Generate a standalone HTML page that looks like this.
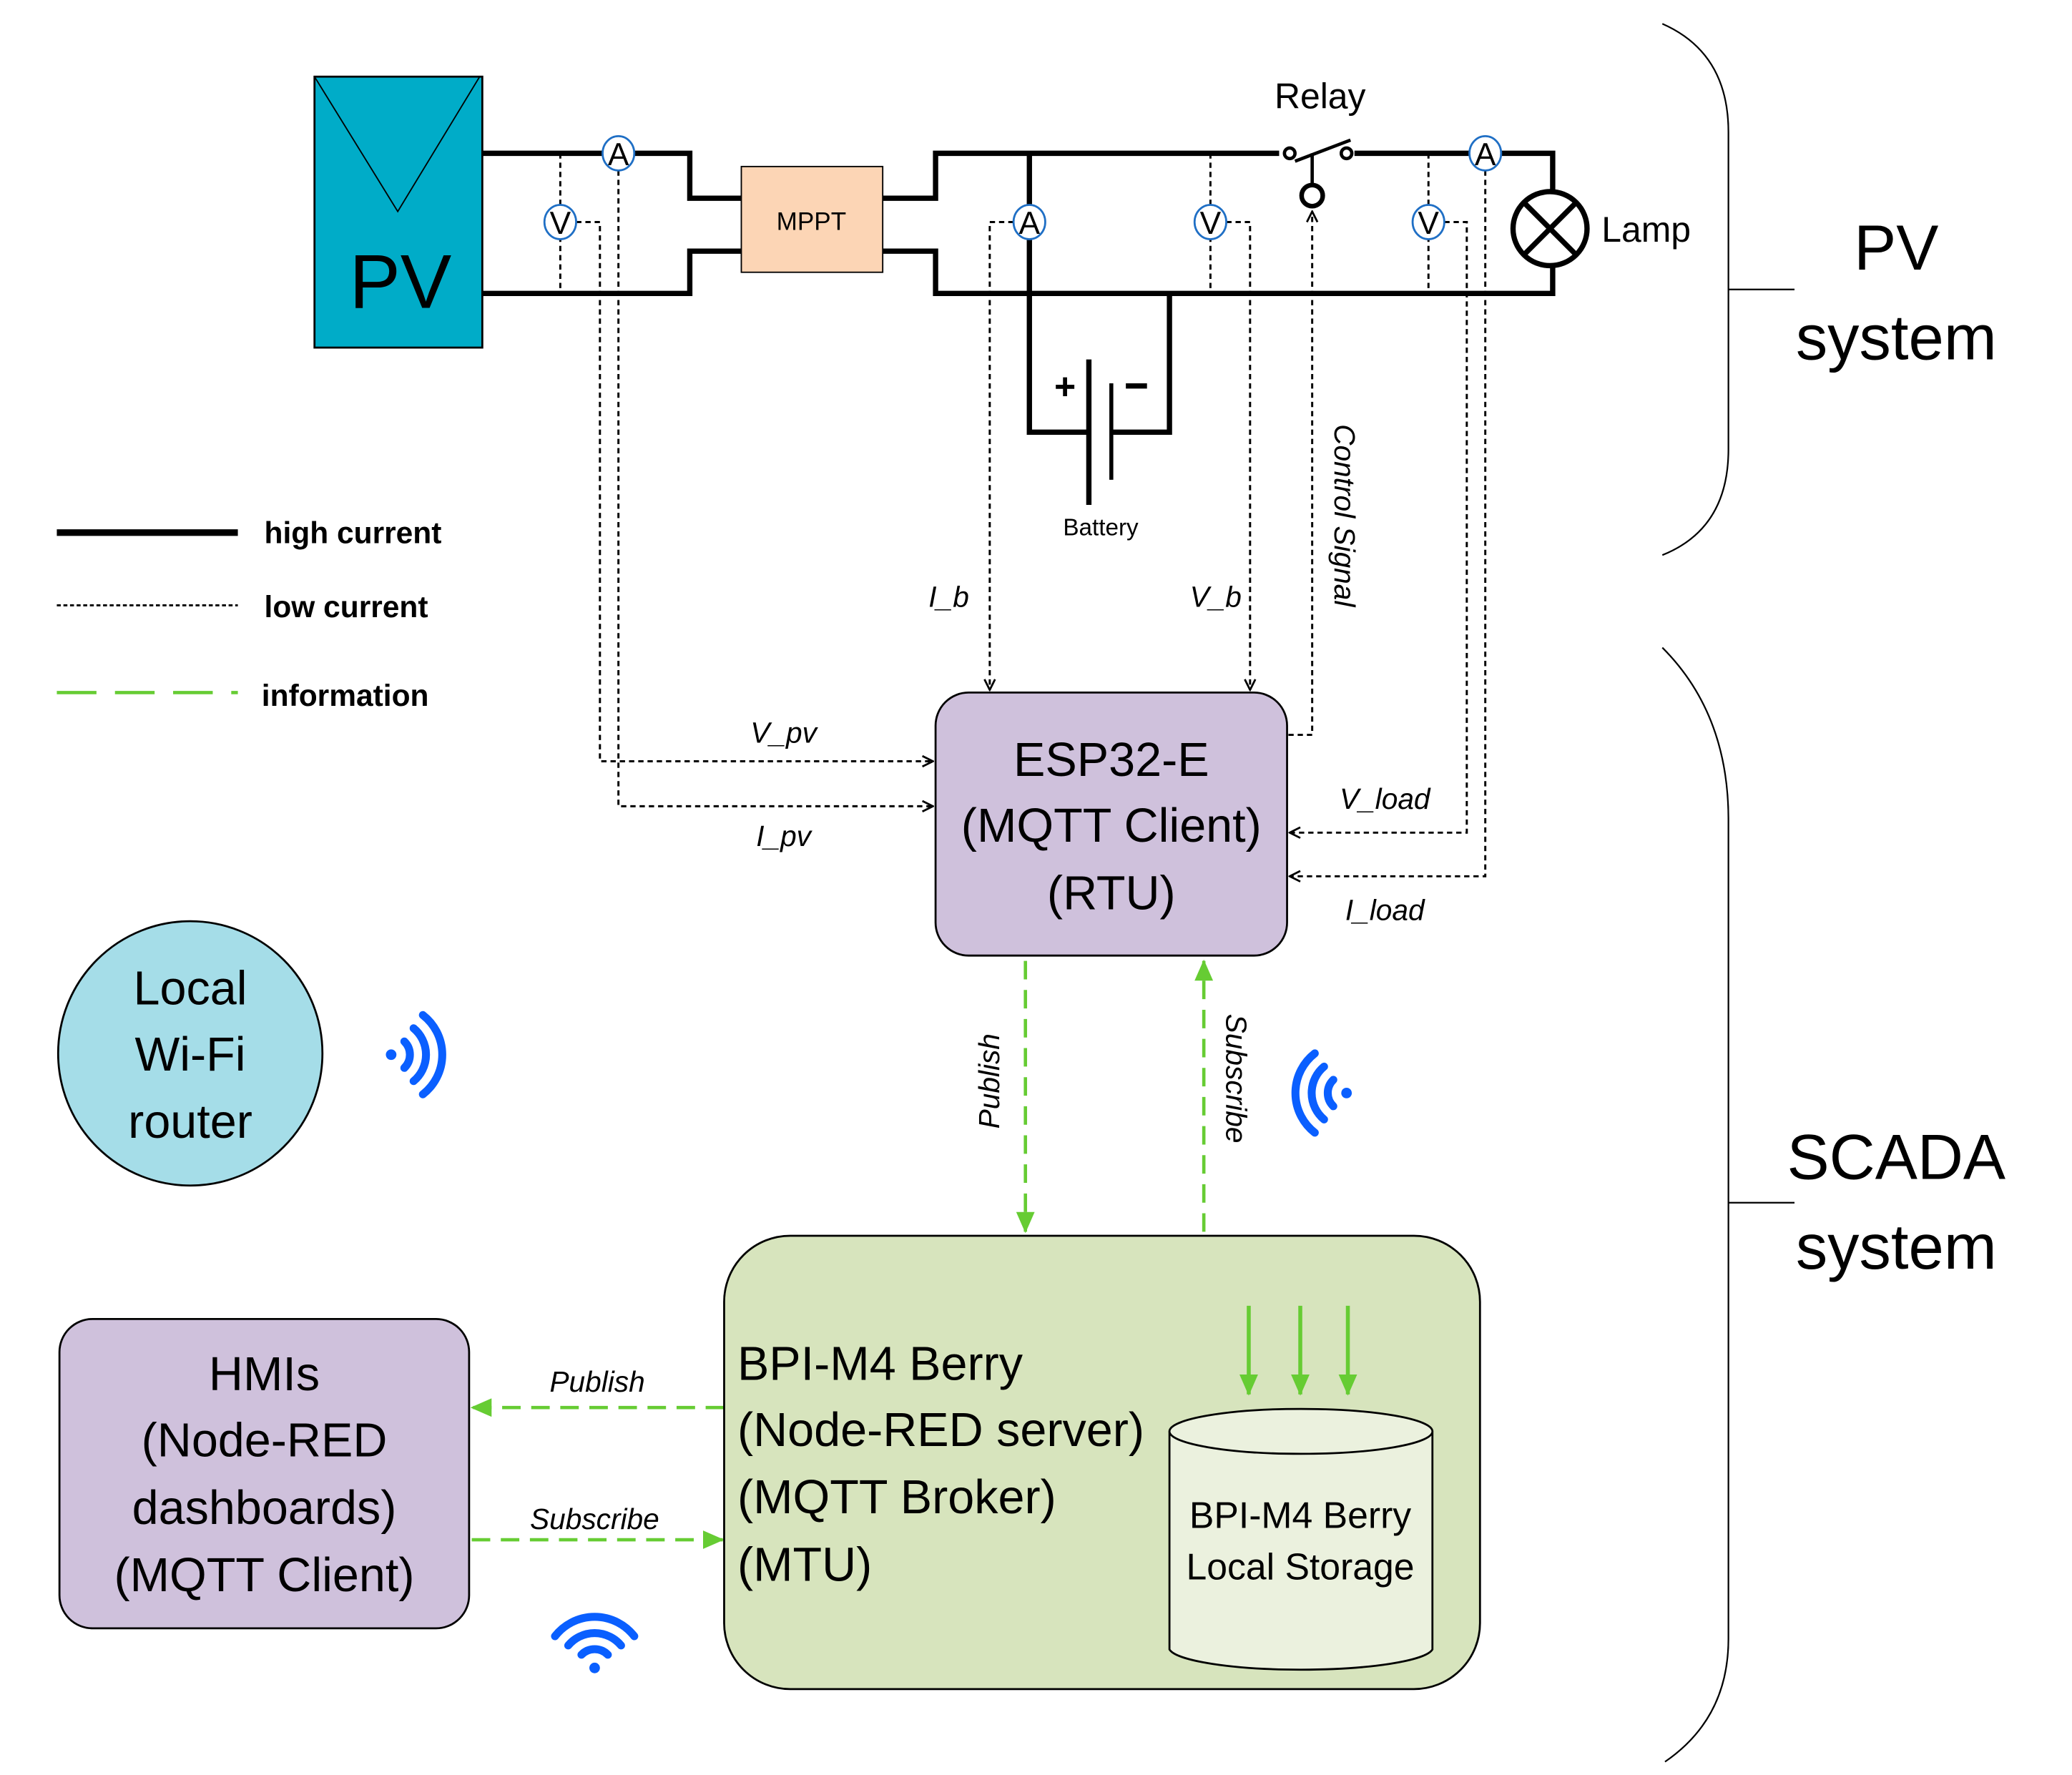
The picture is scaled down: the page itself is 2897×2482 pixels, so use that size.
<!DOCTYPE html>
<html><head><meta charset="utf-8"><style>html,body{margin:0;padding:0;background:#fff}svg{display:block}text{font-family:"Liberation Sans",sans-serif}</style></head><body>
<svg width="2897" height="2482" viewBox="0 0 1568 1343" preserveAspectRatio="none" xmlns="http://www.w3.org/2000/svg">
<defs>
<marker id="ab" markerWidth="10" markerHeight="10" refX="9" refY="5" orient="auto" markerUnits="userSpaceOnUse"><path d="M1,1 L9,5 L1,9" fill="none" stroke="#000" stroke-width="1.5"/></marker>
<marker id="ag" markerWidth="16" markerHeight="14" refX="15" refY="7" orient="auto" markerUnits="userSpaceOnUse"><path d="M0,0 L16,7 L0,14z" fill="#66cc33"/></marker>
</defs>
<rect x="238" y="58" width="127" height="205" fill="#00acc8" stroke="#000" stroke-width="1.5"/>
<path d="M238,58 L301,160 L363,58" fill="none" stroke="#000" stroke-width="1"/>
<text x="303" y="233" font-size="58" text-anchor="middle">PV</text>
<g fill="none" stroke="#000" stroke-width="4">
<path d="M365,116 H522 V150 H561"/>
<path d="M365,222 H522 V190 H561"/>
<path d="M668,150 H708 V116 H968"/>
<path d="M1025,116 H1175 V145"/>
<path d="M668,190 H708 V222 H1175 V201"/>
<path d="M779,116 V327 H824"/>
<path d="M885,222 V327 H841"/>
</g>
<rect x="561" y="126" width="107" height="80" fill="#fcd5b5" stroke="#000" stroke-width="1"/>
<text x="614" y="174" font-size="19" text-anchor="middle">MPPT</text>
<line x1="824" y1="272" x2="824" y2="382" stroke="#000" stroke-width="4"/>
<line x1="841" y1="290" x2="841" y2="363" stroke="#000" stroke-width="3"/>
<text x="806" y="302" font-size="28" font-weight="bold" text-anchor="middle">+</text>
<line x1="852" y1="292" x2="868" y2="292" stroke="#000" stroke-width="4"/>
<text x="833" y="405" font-size="18" text-anchor="middle">Battery</text>
<circle cx="976" cy="116" r="4" fill="#fff" stroke="#000" stroke-width="2.5"/>
<circle cx="1019" cy="116" r="4" fill="#fff" stroke="#000" stroke-width="2.5"/>
<line x1="980" y1="122" x2="1022" y2="106" stroke="#000" stroke-width="2.5"/>
<line x1="993" y1="116" x2="993" y2="140" stroke="#000" stroke-width="2.5"/>
<circle cx="993" cy="148" r="8" fill="#fff" stroke="#000" stroke-width="3.5"/>
<text x="999" y="82" font-size="27" text-anchor="middle">Relay</text>
<circle cx="1173" cy="173" r="28" fill="#fff" stroke="#000" stroke-width="4"/>
<path d="M1153,153 L1193,193 M1193,153 L1153,193" stroke="#000" stroke-width="4"/>
<text x="1212" y="183" font-size="27">Lamp</text>
<g fill="none" stroke="#000" stroke-width="1.6" stroke-dasharray="4,3">
<path d="M424,116 V222"/>
<path d="M436,168 H454 V576 H706" marker-end="url(#ab)"/>
<path d="M468,129 V610 H706" marker-end="url(#ab)"/>
<path d="M767,168 H749 V522" marker-end="url(#ab)"/>
<path d="M916,116 V222"/>
<path d="M928,168 H946 V522" marker-end="url(#ab)"/>
<path d="M975,556 H993 V160" marker-end="url(#ab)"/>
<path d="M1081,116 V222"/>
<path d="M1093,168 H1110 V630 H976" marker-end="url(#ab)"/>
<path d="M1124,129 V663 H976" marker-end="url(#ab)"/>
</g>
<g fill="#fff" stroke="#1f6fc5" stroke-width="1.5">
<ellipse cx="468" cy="116" rx="12" ry="13"/><ellipse cx="779" cy="168" rx="12" ry="13"/><ellipse cx="1124" cy="116" rx="12" ry="13"/>
<ellipse cx="424" cy="168" rx="12" ry="13"/><ellipse cx="916" cy="168" rx="12" ry="13"/><ellipse cx="1081" cy="168" rx="12" ry="13"/>
</g>
<g font-size="24" text-anchor="middle">
<text x="468" y="125">A</text><text x="779" y="177">A</text><text x="1124" y="125">A</text>
<text x="424" y="177">V</text><text x="916" y="177">V</text><text x="1081" y="177">V</text>
</g>
<g font-size="22" font-style="italic" text-anchor="middle">
<text x="718" y="459">I_b</text><text x="920" y="459">V_b</text>
<text x="593" y="562">V_pv</text><text x="593" y="640">I_pv</text>
<text x="1048" y="612">V_load</text><text x="1048" y="696">I_load</text>
<text transform="translate(1010,390) rotate(90)" font-size="22">Control Signal</text>
<text transform="translate(756,818) rotate(-90)">Publish</text>
<text transform="translate(928,816) rotate(90)">Subscribe</text>
<text x="452" y="1053">Publish</text>
<text x="450" y="1157">Subscribe</text>
</g>
<rect x="708" y="524" width="266" height="199" rx="25" fill="#cfc1dc" stroke="#000" stroke-width="1.5"/>
<g font-size="36" text-anchor="middle">
<text x="841" y="587">ESP32-E</text><text x="841" y="637">(MQTT Client)</text><text x="841" y="688">(RTU)</text>
</g>
<g fill="none" stroke="#66cc33" stroke-width="2.5" stroke-dasharray="14,8">
<path d="M776,727 V932" marker-end="url(#ag)"/>
<path d="M911,932 V727" marker-end="url(#ag)"/>
<path d="M548,1065 H357" marker-end="url(#ag)"/>
<path d="M357,1165 H547" marker-end="url(#ag)"/>
</g>
<rect x="548" y="935" width="572" height="343" rx="50" fill="#d7e4bd" stroke="#000" stroke-width="1.5"/>
<g font-size="36">
<text x="558" y="1044">BPI-M4 Berry</text><text x="558" y="1094">(Node-RED server)</text><text x="558" y="1145">(MQTT Broker)</text><text x="558" y="1196">(MTU)</text>
</g>
<path d="M885,1083 V1248 A100,17 0 0 0 1084,1248 V1083" fill="#ebf1de" stroke="#000" stroke-width="1.5"/>
<ellipse cx="984.5" cy="1083" rx="99.5" ry="17" fill="#ebf1de" stroke="#000" stroke-width="1.5"/>
<g font-size="28" text-anchor="middle"><text x="984" y="1156">BPI-M4 Berry</text><text x="984" y="1195">Local Storage</text></g>
<g stroke="#66cc33" stroke-width="3" fill="none">
<path d="M945,988 V1055" marker-end="url(#ag)"/><path d="M984,988 V1055" marker-end="url(#ag)"/><path d="M1020,988 V1055" marker-end="url(#ag)"/>
</g>
<rect x="45" y="998" width="310" height="234" rx="25" fill="#cfc1dc" stroke="#000" stroke-width="1.5"/>
<g font-size="36" text-anchor="middle">
<text x="200" y="1052">HMIs</text><text x="200" y="1102">(Node-RED</text><text x="200" y="1153">dashboards)</text><text x="200" y="1204">(MQTT Client)</text>
</g>
<circle cx="144" cy="797" r="100" fill="#a5dde8" stroke="#000" stroke-width="1.5"/>
<g font-size="36" text-anchor="middle"><text x="144" y="760">Local</text><text x="144" y="810">Wi-Fi</text><text x="144" y="861">router</text></g>
<g fill="none" stroke="#0a5fff" stroke-width="6" stroke-linecap="round">
<g transform="translate(296,798)">
<circle cx="0" cy="0" r="4" fill="#0a5fff" stroke="none"/>
<path d="M10,-10 A14,14 0 0 1 10,10"/><path d="M17,-20 A26,26 0 0 1 17,20"/><path d="M24,-30 A38,38 0 0 1 24,30"/>
</g>
<g transform="translate(1019,827)">
<circle cx="0" cy="0" r="4" fill="#0a5fff" stroke="none"/>
<path d="M-10,-10 A14,14 0 0 0 -10,10"/><path d="M-17,-20 A26,26 0 0 0 -17,20"/><path d="M-24,-30 A38,38 0 0 0 -24,30"/>
</g>
<g transform="translate(450,1262)">
<circle cx="0" cy="0" r="4" fill="#0a5fff" stroke="none"/>
<path d="M-10,-10 A14,14 0 0 1 10,-10"/><path d="M-20,-17 A26,26 0 0 1 20,-17"/><path d="M-30,-24 A38,38 0 0 1 30,-24"/>
</g>
</g>
<line x1="43" y1="403" x2="180" y2="403" stroke="#000" stroke-width="5"/>
<line x1="43" y1="458" x2="180" y2="458" stroke="#000" stroke-width="1.6" stroke-dasharray="3,2"/>
<line x1="43" y1="524" x2="180" y2="524" stroke="#66cc33" stroke-width="2.5" stroke-dasharray="30,14"/>
<g font-size="23" font-weight="bold"><text x="200" y="411">high current</text><text x="200" y="467">low current</text><text x="198" y="534">information</text></g>
<g fill="none" stroke="#000" stroke-width="1.2">
<path d="M1258,18 Q1308,40 1308,100 V340 Q1308,400 1258,420"/><path d="M1308,219 H1358"/>
<path d="M1258,490 Q1308,540 1308,620 V1240 Q1308,1300 1260,1333"/><path d="M1308,910 H1358"/>
</g>
<g font-size="48" text-anchor="middle"><text x="1435" y="204">PV</text><text x="1435" y="272">system</text><text x="1435" y="892">SCADA</text><text x="1435" y="960">system</text></g>
</svg>
</body></html>
